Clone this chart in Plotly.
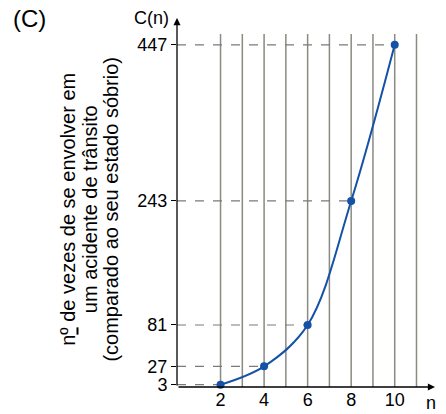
import plotly.graph_objects as go

# data
n_vals = [2, 4, 6, 8, 10]
c_vals = [3, 27, 81, 243, 447]
grid_n = [2, 3, 4, 5, 6, 7, 8, 9, 10, 11]
x_ticks = [2, 4, 6, 8, 10]
title_lines = ['n<u>º</u> de vezes de se envolver em',
	'um acidente de trânsito',
	'(comparado ao seu estado sóbrio)']

blue = '#1352a6'
font = 'Liberation Sans, Arial, sans-serif'

fig = go.Figure()

# vertical grid lines (they stop below the arrow)
for g in grid_n:
	fig.add_shape(type='line', x0=g, x1=g, y0=0, y1=461, xref='x', yref='y',
		line=dict(color='#8a8a82', width=1.5), layer='below')

# dashed guide lines from the axis to each point
for n, c in zip(n_vals, c_vals):
	fig.add_shape(type='line', x0=0, x1=n, y0=c, y1=c, xref='x', yref='y',
		line=dict(color='#7a7a7a', width=1.2, dash='dash'), layer='below')

fig.add_trace(go.Scatter(x=n_vals, y=c_vals, mode='lines+markers',
	line=dict(color=blue, width=2, shape='spline', smoothing=1),
	marker=dict(color=blue, size=8), cliponaxis=False, hoverinfo='skip'))

# axes with arrow heads
fig.add_annotation(x=1, y=0, xref='paper', yref='paper', ax=-258, ay=0,
	showarrow=True, arrowhead=2, arrowsize=1.1, arrowwidth=1.3, arrowcolor='black', text='')
fig.add_annotation(x=0, y=1, xref='paper', yref='paper', ax=0, ay=369,
	showarrow=True, arrowhead=2, arrowsize=1.1, arrowwidth=1.3, arrowcolor='black', text='')

fig.add_annotation(text='(C)', x=-0.645, y=1.0, xref='paper', yref='paper', showarrow=False,
	xanchor='left', yanchor='middle', font=dict(size=24, color='black', family=font))
fig.add_annotation(text='C(n)', x=-0.025, y=1.0, xref='paper', yref='paper', showarrow=False,
	xanchor='right', yanchor='middle', font=dict(size=18, color='black', family=font))
fig.add_annotation(text='n', x=0.985, y=-0.043, xref='paper', yref='paper', showarrow=False,
	xanchor='center', yanchor='middle', font=dict(size=18, color='black', family=font))

# rotated y title, one annotation per line to keep the tight line spacing
for line, px in zip(title_lines, [-0.42, -0.337, -0.254]):
	fig.add_annotation(text=line, x=px, y=0.482, xref='paper', yref='paper',
		showarrow=False, textangle=-90, xanchor='center', yanchor='middle',
		font=dict(size=20, color='black', family=font))

fig.update_layout(
	width=446, height=414,
	margin=dict(l=177, r=11, t=18, b=27),
	paper_bgcolor='white', plot_bgcolor='white',
	showlegend=False,
	font=dict(family=font, size=18, color='black'),
	xaxis=dict(range=[0, 11.85], showgrid=False, zeroline=False, showline=False,
		automargin=False, tickmode='array', tickvals=x_ticks, ticks=''),
	yaxis=dict(range=[0, 482], showgrid=False, zeroline=False, showline=False,
		automargin=False, tickmode='array', tickvals=c_vals, ticks='outside', ticklen=5,
		tickcolor='black', tickwidth=1),
)

# page has a default body margin, drop it so the figure sits at the corner
fig.write_html("out.html", config={'displayModeBar': False},
	post_script="document.body.style.margin='0';")
